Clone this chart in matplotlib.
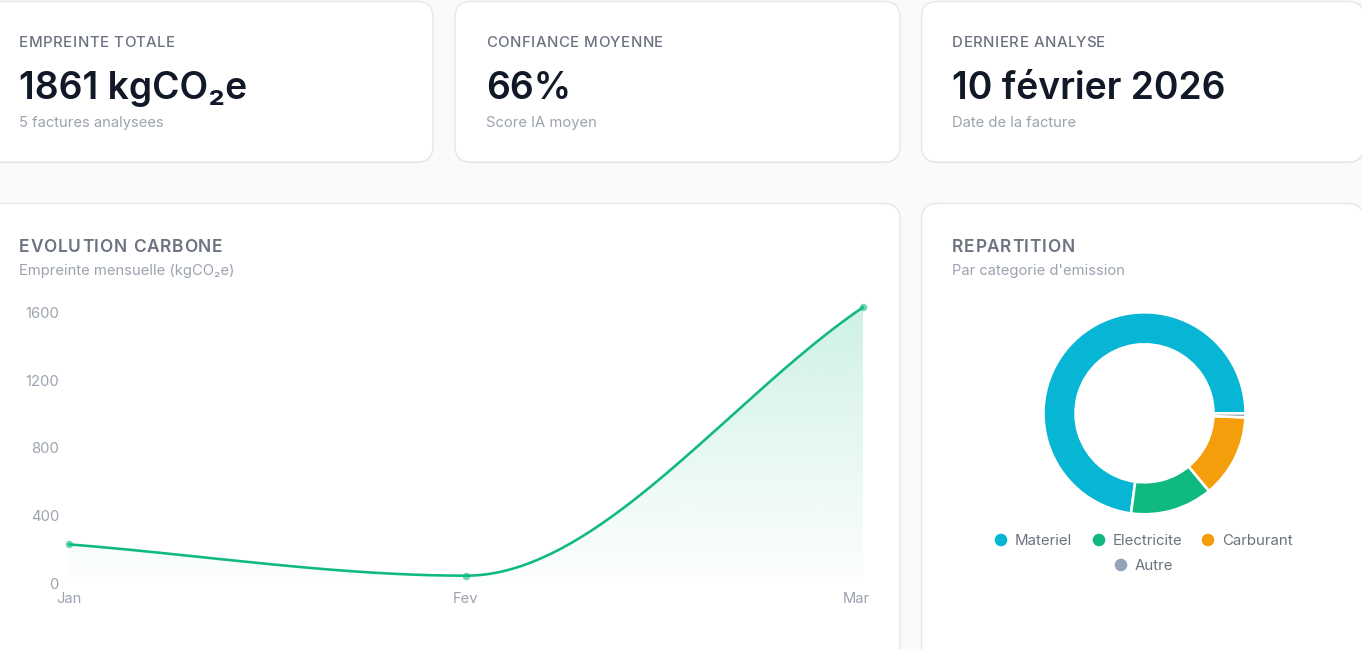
import numpy as np
import matplotlib
matplotlib.use('Agg')
import matplotlib.pyplot as plt
from matplotlib.patches import FancyBboxPatch, Circle, Polygon
from matplotlib.colors import to_rgb
from matplotlib.font_manager import FontProperties, findfont
from matplotlib.ft2font import FT2Font
try:
    from matplotlib.ft2font import Kerning
    KERN = Kerning.DEFAULT
except Exception:
    from matplotlib.ft2font import KERNING_DEFAULT as KERN

# ---------------- data ----------------
months = ['Jan', 'Fev', 'Mar']
monthly_kg = [230, 45, 1630]
y_ticks = [0, 400, 800, 1200, 1600]

categories = ['Materiel', 'Electricite', 'Carburant', 'Autre']
category_kg = [1356, 245, 248, 12]
category_colors = ['#06b6d4', '#10b981', '#f59e0b', '#94a3b8']

kpi_titles = ['EMPREINTE TOTALE', 'CONFIANCE MOYENNE', 'DERNIERE ANALYSE']
kpi_values = ['1861 kgCO₂e', '66%', '10 février 2026']
kpi_subtitles = ['5 factures analysees', 'Score IA moyen', 'Date de la facture']

line_title = 'EVOLUTION CARBONE'
line_subtitle = 'Empreinte mensuelle (kgCO₂e)'
pie_title = 'REPARTITION'
pie_subtitle = "Par categorie d'emission"

FONT = ['Inter', 'DejaVu Sans']
plt.rcParams['font.family'] = FONT

W, H = 1362, 649
PT = 0.72  # px -> pt at 100 dpi

fig = plt.figure(figsize=(W / 100, H / 100), dpi=100)
fig.patch.set_facecolor('#fafafa')
bg = fig.add_axes([0, 0, 1, 1])
bg.set_xlim(0, W)
bg.set_ylim(H, 0)
bg.axis('off')


def card(x0, y0, x1, y1):
    sh = FancyBboxPatch((x0, y0 + 1.5), x1 - x0, y1 - y0,
                        boxstyle='round,pad=0,rounding_size=16',
                        fc='#000000', ec='none', alpha=0.035, zorder=1)
    p = FancyBboxPatch((x0, y0), x1 - x0, y1 - y0,
                       boxstyle='round,pad=0,rounding_size=16',
                       fc='white', ec='#e5e7eb', lw=1.0, zorder=2)
    bg.add_patch(sh)
    bg.add_patch(p)


# approximate GPOS pair kerning (em) for uppercase pairs, used when the
# kern table gives nothing
PAIR_KERN = {'LY': -0.10, 'LT': -0.09, 'TA': -0.05, 'AT': -0.05, 'PA': -0.05,
             'AY': -0.05, 'YA': -0.05, 'TO': -0.02, 'OY': -0.02, 'YS': -0.02}


def spaced_text(x, y, s, size_px, spacing_em, weight='normal', color='k'):
    prop = FontProperties(family=FONT, weight=weight)
    font = FT2Font(findfont(prop))
    font.set_size(size_px * PT, 100)
    cur = x
    prev, prev_ch = None, None
    for ch in s:
        gi = font.get_char_index(ord(ch))
        if prev is not None:
            k = 0.0
            try:
                k = font.get_kerning(prev, gi, KERN) / 64.0
            except Exception:
                k = 0.0
            if k == 0.0:
                k = PAIR_KERN.get(prev_ch + ch, 0.0) * size_px
            cur += k
        g = font.load_char(ord(ch))
        if ch != ' ':
            bg.text(cur, y, ch, fontsize=size_px * PT,
                    weight=weight, color=color, ha='left', va='baseline', zorder=5)
        cur += g.linearHoriAdvance / 65536.0 + spacing_em * size_px
        prev, prev_ch = gi, ch


card(-20, 1.5, 433, 162)
card(455, 1.5, 900, 162)
card(921.5, 1.5, 1364, 162)
card(-20, 203.5, 900, 690)
card(921.5, 203.5, 1364, 690)

# KPI texts
kpi_x = [19, 486, 952]
for x, t, v, s in zip(kpi_x, kpi_titles, kpi_values, kpi_subtitles):
    spaced_text(x, 47.3, t, 15, 0.035, weight='medium', color='#6b7280')
    bg.text(x, 99, v, fontsize=37.3 * PT, color='#111827', weight='semibold',
            ha='left', va='baseline', zorder=5)
    bg.text(x, 127.3, s, fontsize=14.8 * PT, color='#9ca3af', ha='left', va='baseline', zorder=5)

# section titles
for x, t, s in [(19, line_title, line_subtitle), (952, pie_title, pie_subtitle)]:
    spaced_text(x, 252.5, t, 17.3, 0.045, weight='semibold', color='#6b7280')
    bg.text(x, 275.5, s, fontsize=14.8 * PT, color='#9ca3af', ha='left', va='baseline', zorder=5)

# ---------------- line chart ----------------
x0p, x1p = 69, 863
y0p, y1p = 583.3, 307.3
ax = fig.add_axes([x0p / W, (H - y0p) / H, (x1p - x0p) / W, (y0p - y1p) / H])
ax.set_facecolor('none')
xs = np.arange(len(months), dtype=float)
ys = np.asarray(monthly_kg, dtype=float)
ax.set_xlim(xs[0], xs[-1])
ax.set_ylim(0, ys.max())


def monotone_curve(xv, yv, n=80):
    d = np.diff(yv) / np.diff(xv)
    m = np.empty_like(yv)
    m[0], m[-1] = d[0], d[-1]
    for i in range(1, len(yv) - 1):
        m[i] = 0.0 if d[i - 1] * d[i] <= 0 else (d[i - 1] + d[i]) / 2
    for i in range(len(d)):
        if d[i] == 0:
            m[i] = m[i + 1] = 0
            continue
        a, b = m[i] / d[i], m[i + 1] / d[i]
        s = a * a + b * b
        if s > 9:
            t = 3 / np.sqrt(s)
            m[i], m[i + 1] = t * a * d[i], t * b * d[i]
    cx, cy = [], []
    for i in range(len(d)):
        h = xv[i + 1] - xv[i]
        t = np.linspace(0, 1, n)
        h00 = 2 * t**3 - 3 * t**2 + 1
        h10 = t**3 - 2 * t**2 + t
        h01 = -2 * t**3 + 3 * t**2
        h11 = t**3 - t**2
        cx.append(xv[i] + t * h)
        cy.append(h00 * yv[i] + h10 * h * m[i] + h01 * yv[i + 1] + h11 * h * m[i + 1])
    return np.concatenate(cx), np.concatenate(cy)


cx, cy = monotone_curve(xs, ys)
green = to_rgb('#10b981')
grad = np.zeros((256, 2, 4))
grad[..., :3] = green
grad[..., 3] = np.linspace(0.2, 0.01, 256)[:, None]
im = ax.imshow(grad, extent=(xs[0], xs[-1], 0, ys.max()), origin='upper',
               aspect='auto', zorder=1, interpolation='bilinear')
poly = Polygon(np.column_stack([np.r_[cx, cx[-1], cx[0]], np.r_[cy, 0, 0]]),
               closed=True, fc='none', ec='none', transform=ax.transData)
ax.add_patch(poly)
im.set_clip_path(poly)
ax.plot(cx, cy, color='#10b981', lw=2.6 * PT, zorder=3, clip_on=False,
        solid_capstyle='round')
ax.scatter(xs, ys, s=(7.5 * PT) ** 2, color='#10b981', alpha=0.6, lw=0,
           zorder=4, clip_on=False)

ax.set_yticks(y_ticks)
ax.set_yticklabels([str(v) for v in y_ticks])
px_per_unit = (x1p - x0p) / (xs[-1] - xs[0])
tick_x = xs.copy()
tick_x[-1] -= 7 / px_per_unit   # last label pulled inward as in the source chart
ax.set_xticks(tick_x)
ax.set_xticklabels(months)
for s in ax.spines.values():
    s.set_visible(False)
ax.tick_params(axis='y', length=0, pad=10 * PT, labelsize=14.8 * PT, labelcolor='#9ca3af')
ax.tick_params(axis='x', length=0, pad=8.5 * PT, labelsize=14.8 * PT, labelcolor='#9ca3af')
ax.set_xlim(xs[0], xs[-1])
ax.grid(False)

# ---------------- donut ----------------
cxp, cyp, r = 1144.5, 413.3, 100
pax = fig.add_axes([(cxp - r) / W, (H - cyp - r) / H, 2 * r / W, 2 * r / H])
pax.pie(category_kg, colors=category_colors, startangle=0, counterclock=True,
        radius=1.01, wedgeprops=dict(width=0.32, edgecolor='white', linewidth=2.6 * PT))
pax.set_xlim(-1.0, 1.0)
pax.set_ylim(-1.0, 1.0)
pax.set_aspect('equal')
pax.axis('off')

# legend
legend_pos = [(1001, 540), (1099, 540), (1208, 540), (1121, 565)]
for (lx, ly), name, col in zip(legend_pos, categories, category_colors):
    bg.add_patch(Circle((lx, ly), 6.3, fc=col, ec='none', zorder=5))
    bg.text(lx + 14, ly + 5.3, name, fontsize=15 * PT, color='#6b7280',
            ha='left', va='baseline', zorder=5)

fig.savefig('out.png', dpi=100, facecolor=fig.get_facecolor())
